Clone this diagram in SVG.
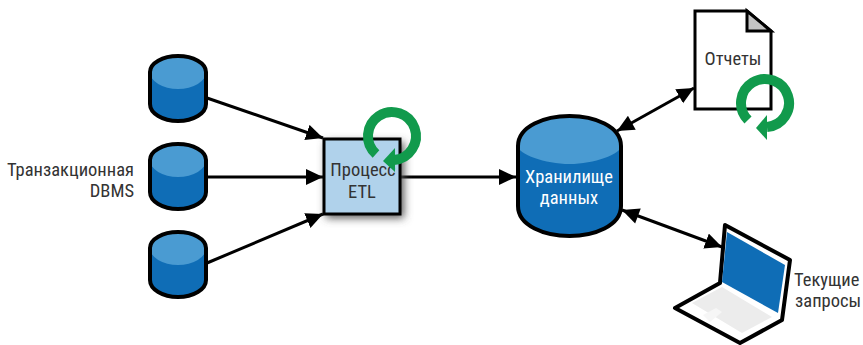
<svg xmlns="http://www.w3.org/2000/svg" width="863" height="345" viewBox="0 0 863 345">
<style>
text{font-family:"Liberation Sans Narrow","Roboto Condensed","Liberation Sans",sans-serif;font-size:18.500px;fill:#333}
.w{fill:#fff}
.o{stroke:#000;stroke-width:4;fill:none}
.c{stroke:#000;stroke-width:3;fill:none;marker-end:url(#a)}
.b{marker-start:url(#s)}
.dark{fill:#0f6db6}.light{fill:#4a9bd2}
.g{stroke:#119a4c;stroke-width:10;fill:none}
.gh{fill:#119a4c}
</style>
<defs>
<marker id="a" markerUnits="userSpaceOnUse" markerWidth="20" markerHeight="20" refX="17" refY="8" orient="auto"><path d="M0 0L17 8L0 16z"/></marker>
<marker id="s" markerUnits="userSpaceOnUse" markerWidth="20" markerHeight="20" refX="0" refY="8" orient="auto"><path d="M17 0L0 8L17 16z"/></marker>
<filter id="sh" x="-20%" y="-20%" width="150%" height="150%"><feGaussianBlur stdDeviation="4"/></filter>
<g id="cy">
<path class="dark" d="M150 72A28 16 0 0 1 206 72V104A28 17 0 0 1 150 104z"/>
<path class="light" d="M150 72A28 16 0 0 1 206 72A28 17 0 0 1 150 72z"/>
<path class="o" d="M150 72A28 16 0 0 1 206 72V104A28 17 0 0 1 150 104z"/>
</g>
</defs>
<g id="connectors">
<line class="c" x1="207" y1="98" x2="323" y2="138"/>
<line class="c" x1="207" y1="177" x2="323" y2="177"/>
<line class="c" x1="207" y1="263" x2="323" y2="214"/>
<line class="c" x1="400" y1="177" x2="516" y2="177"/>
<line class="c b" x1="617" y1="131" x2="694" y2="88"/>
<line class="c b" x1="622" y1="210" x2="722" y2="247"/>
</g>
<g id="db1"><use href="#cy"/></g>
<g id="db2"><use href="#cy" y="88"/></g>
<g id="db3"><use href="#cy" y="176"/></g>
<g id="label-dbms">
<text x="134" y="176" text-anchor="end">Транзакционная</text>
<text x="134" y="197" text-anchor="end">DBMS</text>
</g>
<g id="etl">
<rect x="326" y="142" width="78" height="76" fill="#555" filter="url(#sh)"/>
<rect x="324" y="139" width="76" height="75" fill="#b0d2eb" stroke="#000" stroke-width="3"/>
<text x="363" y="176" text-anchor="middle">Процесс</text>
<text x="362" y="198" text-anchor="middle">ETL</text>
<path class="g" d="M376 154A24 24 0 1 1 394 160"/>
<path class="gh" d="M383 161L395 148V172z"/>
</g>
<g id="warehouse">
<path class="dark" d="M518 146C518 126 545 116 569.500 116C594 116 621 126 621 146V206C621 226 594 236 569.500 236C545 236 518 226 518 206z"/>
<path class="light" d="M518 146C518 126 545 116 569.500 116C594 116 621 126 621 146C621 154 594 164 569.500 164C545 164 518 154 518 146z"/>
<path class="o" d="M518 146C518 126 545 116 569.500 116C594 116 621 126 621 146V206C621 226 594 236 569.500 236C545 236 518 226 518 206z"/>
<text class="w" x="569" y="183" text-anchor="middle">Хранилище</text>
<text class="w" x="569" y="204" text-anchor="middle">данных</text>
</g>
<g id="reports">
<path d="M695 11H747L771 31V109H695z" fill="#fff" stroke="#000" stroke-width="3"/>
<path d="M747 11L771 31H747z" fill="#c4c4c4" stroke="#000" stroke-width="3"/>
<text x="733" y="65" text-anchor="middle">Отчеты</text>
<path class="g" d="M748 120A24 24 0 1 1 767 127"/>
<path class="gh" d="M756 128L767 115V140z"/>
</g>
<g id="laptop">
<path d="M675 308L720 283L725 225L790 260L782 320L740 343z" fill="#fff" stroke="#000" stroke-width="4" stroke-linejoin="round"/>
<path d="M727 232L785 265L778 313L722 282z" fill="#0f6db6"/>
<path d="M692 303L722 287L772 317L742 333z" fill="#ececec"/>
<path d="M703 315L716 308L722 312L710 322z" fill="#f6f6f6"/>
<text x="794" y="286">Текущие</text>
<text x="795" y="307">запросы</text>
</g>
</svg>
